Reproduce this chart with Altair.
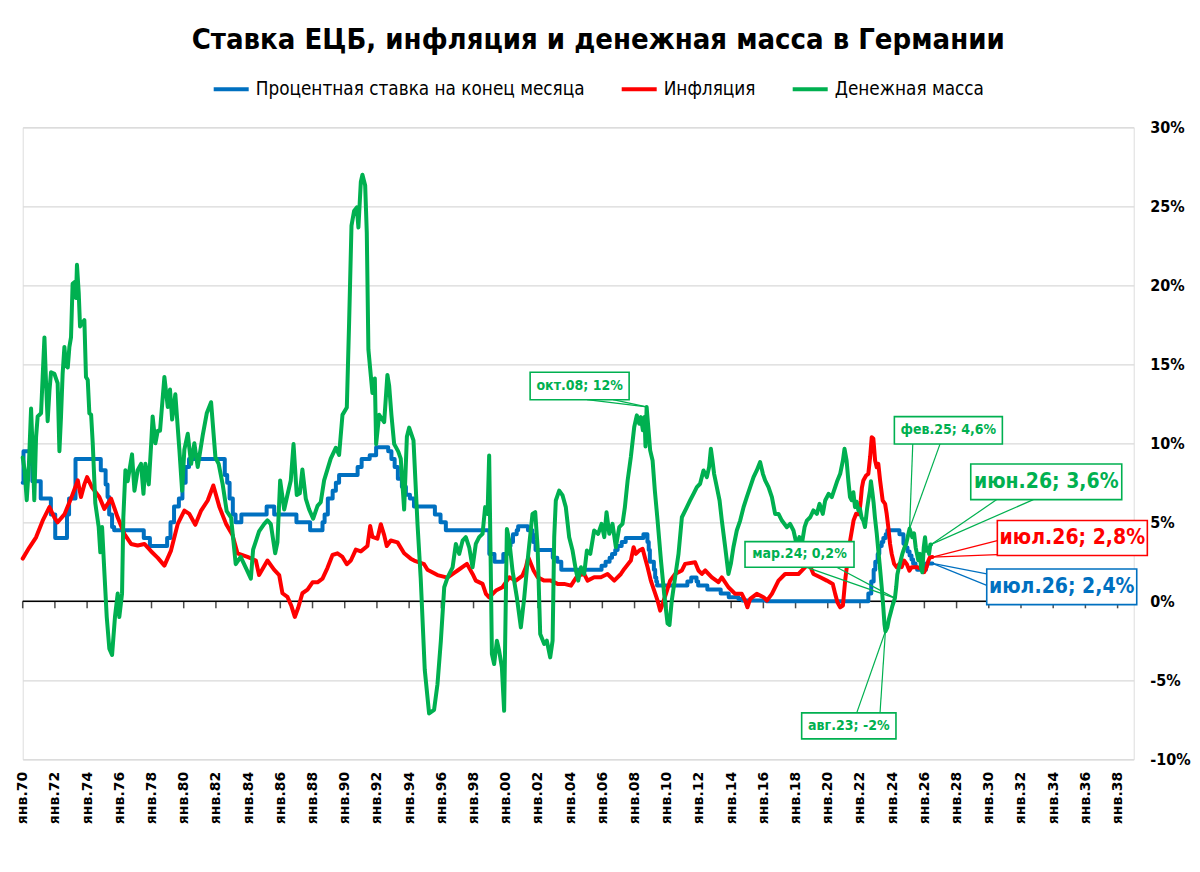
import altair as alt
import pandas as pd

# ---------------- data ----------------
SERIES = ["Процентная ставка на конец месяца", "Инфляция", "Денежная масса"]
COLORS = ["#0070C0", "#FF0000", "#00B050"]

# ECB / Bundesbank rate (change points, step-after)
rate_t = [1970.00, 1970.05, 1970.45, 1970.60, 1971.12, 1971.75, 1972.02, 1972.75, 1972.88, 1973.28,
          1974.85, 1975.15, 1975.27, 1975.37, 1975.55, 1975.68, 1977.52, 1977.90, 1978.97, 1979.18,
          1979.40, 1979.70, 1979.92, 1980.12, 1980.33, 1982.55, 1982.70, 1982.85, 1983.05, 1983.22,
          1983.58, 1985.15, 1985.62, 1987.00, 1987.85, 1988.62, 1988.75, 1988.95, 1989.25, 1989.45,
          1989.65, 1990.80, 1991.05, 1991.55, 1991.95, 1992.70, 1992.90, 1993.10, 1993.30, 1993.55,
          1993.80, 1994.05, 1994.30, 1995.60, 1995.95, 1996.28, 1998.98, 1999.30, 1999.85, 2000.10,
          2000.20, 2000.30, 2000.45, 2000.68, 2000.77, 2001.38, 2001.65, 2001.70, 2001.85, 2002.92,
          2003.20, 2003.45, 2005.95, 2006.20, 2006.45, 2006.60, 2006.80, 2006.95, 2007.20, 2007.45,
          2008.55, 2008.80, 2008.88, 2008.95, 2009.20, 2009.28, 2009.35, 2009.40, 2011.28, 2011.52,
          2011.85, 2011.95, 2012.52, 2013.35, 2013.85, 2014.45, 2014.70, 2016.20, 2022.52, 2022.70,
          2022.85, 2022.95, 2023.10, 2023.20, 2023.35, 2023.45, 2023.60, 2023.70, 2024.45, 2024.70,
          2024.80, 2024.95, 2025.08, 2025.20, 2025.30, 2025.45, 2025.55, 2026.10, 2026.50]
rate_v = [7.5, 9.5, 8.7, 7.6, 6.5, 5.5, 4.0, 5.5, 6.5, 9.0,
          8.3, 7.4, 6.6, 5.5, 4.7, 4.5, 4.0, 3.5, 4.0, 5.0,
          6.0, 6.5, 7.5, 8.5, 9.0, 8.0, 7.5, 6.5, 5.5, 5.0,
          5.5, 6.0, 5.5, 5.0, 4.5, 5.0, 5.5, 6.5, 7.0, 7.5,
          8.0, 8.5, 9.0, 9.25, 9.75, 9.5, 9.0, 8.5, 7.75, 7.25,
          6.75, 6.5, 6.0, 5.5, 5.0, 4.5, 3.0, 2.5, 3.0, 3.25,
          3.5, 3.75, 4.25, 4.5, 4.75, 4.5, 4.25, 3.75, 3.25, 2.75,
          2.5, 2.0, 2.25, 2.5, 2.75, 3.0, 3.25, 3.5, 3.75, 4.0,
          4.25, 3.75, 3.25, 2.5, 2.0, 1.5, 1.25, 1.0, 1.25, 1.5,
          1.25, 1.0, 0.75, 0.5, 0.25, 0.15, 0.05, 0.0, 0.5, 1.25,
          2.0, 2.5, 3.0, 3.5, 3.75, 4.0, 4.25, 4.5, 4.25, 3.65,
          3.4, 3.15, 2.9, 2.65, 2.4, 2.15, 2.0, 2.4, 2.4]

# inflation
infl_t = [1970.00, 1970.41, 1970.83, 1971.24, 1971.66, 1971.97, 1972.17, 1972.59, 1973.00, 1973.42,
          1973.62, 1973.83, 1974.00, 1974.31, 1974.76, 1975.07, 1975.49, 1975.90, 1976.31, 1976.73,
          1977.14, 1977.56, 1977.97, 1978.39, 1978.80, 1979.21, 1979.63, 1980.04, 1980.35, 1980.72,
          1981.08, 1981.49, 1981.84, 1982.22, 1982.63, 1983.03, 1983.34, 1983.96, 1984.48, 1984.68,
          1985.20, 1985.61, 1985.93, 1986.13, 1986.44, 1986.69, 1986.90, 1987.11, 1987.37, 1987.69,
          1988.00, 1988.31, 1988.62, 1988.93, 1989.24, 1989.55, 1989.86, 1990.13, 1990.38, 1990.69,
          1991.00, 1991.41, 1991.58, 1991.72, 1992.03, 1992.24, 1992.45, 1992.61, 1992.86, 1993.28,
          1993.69, 1994.10, 1994.31, 1994.93, 1995.14, 1995.76, 1996.38, 1996.80, 1997.01, 1997.59,
          1997.94, 1998.14, 1998.56, 1998.77, 1998.97, 1999.39, 1999.80, 2000.22, 2000.63, 2001.04,
          2001.25, 2001.40, 2001.73, 2001.98, 2002.39, 2002.80, 2003.22, 2003.63, 2004.05, 2004.25,
          2004.46, 2004.87, 2005.08, 2005.49, 2005.91, 2006.32, 2006.74, 2007.15, 2007.36, 2007.77,
          2007.94, 2008.08, 2008.29, 2008.50, 2008.64, 2008.81, 2009.01, 2009.22, 2009.43, 2009.59,
          2009.74, 2009.95, 2010.21, 2010.52, 2010.94, 2011.14, 2011.76, 2011.97, 2012.18, 2012.39,
          2012.80, 2013.21, 2013.42, 2013.83, 2014.25, 2014.66, 2014.87, 2015.01, 2015.18, 2015.59,
          2016.01, 2016.22, 2016.53, 2016.94, 2017.35, 2017.77, 2018.18, 2018.60, 2018.80, 2019.11,
          2019.53, 2019.94, 2020.31, 2020.46, 2020.60, 2020.77, 2020.94, 2021.08, 2021.23, 2021.39,
          2021.60, 2021.76, 2021.95, 2022.05, 2022.12, 2022.21, 2022.38, 2022.52, 2022.63, 2022.73,
          2022.83, 2022.94, 2023.04, 2023.14, 2023.25, 2023.41, 2023.56, 2023.66, 2023.76, 2023.87,
          2023.97, 2024.12, 2024.28, 2024.45, 2024.59, 2024.74, 2024.90, 2025.07, 2025.21, 2025.52,
          2025.83, 2025.98, 2026.14, 2026.25, 2026.35, 2026.50]
infl_v = [2.7, 3.4, 4.05, 5.1, 5.96, 5.3, 5.0, 5.5, 6.5, 7.65,
          6.6, 7.4, 7.86, 7.2, 6.6, 5.85, 6.5, 5.3, 4.27, 3.63,
          3.53, 3.63, 3.17, 2.75, 2.26, 3.21, 4.9, 5.74, 5.53, 4.84,
          5.74, 6.38, 7.33, 5.96, 4.9, 4.2, 3.04, 2.81, 2.58, 1.66,
          2.58, 2.0, 1.66, 0.51, 0.28, -0.3, -0.99, -0.41, 0.51, 0.74,
          1.2, 1.2, 1.43, 2.12, 2.93, 3.04, 2.81, 2.35, 2.58, 3.27,
          3.16, 3.5, 4.77, 4.08, 3.96, 4.88, 4.19, 3.5, 3.85, 3.73,
          3.04, 2.7, 2.58, 2.35, 2.0, 1.66, 1.5, 1.8, 1.95, 2.37,
          1.73, 1.31, 1.1, 0.47, 0.25, 0.68, 0.89, 1.52, 1.31, 1.63,
          2.16, 2.79, 1.95, 1.52, 1.31, 1.31, 1.1, 1.1, 0.99, 1.31,
          1.63, 1.73, 1.31, 1.52, 1.52, 1.73, 1.31, 1.73, 2.05, 2.58,
          3.42, 3.0, 3.21, 3.32, 2.79, 2.16, 1.31, 0.68, 0.04, -0.59,
          -0.17, 0.47, 1.31, 1.73, 1.95, 2.37, 2.47, 1.95, 1.73, 1.95,
          1.52, 1.21, 1.52, 0.89, 0.47, 0.47, 0.04, -0.38, 0.15, 0.47,
          0.26, 0.04, 0.47, 1.31, 1.73, 1.73, 1.73, 2.16, 2.47, 1.73,
          1.52, 1.31, 1.1, 0.47, -0.06, -0.38, -0.27, 1.31, 2.58, 3.85,
          5.11, 5.54, 5.5, 6.4, 7.2, 7.65, 7.96, 8.07, 9.13, 10.39,
          10.29, 8.91, 8.49, 8.7, 7.65, 6.38, 6.17, 5.53, 4.69, 3.63,
          3.0, 2.37, 2.16, 2.37, 2.16, 2.58, 2.37, 1.94, 2.16, 2.16,
          2.05, 1.84, 2.16, 2.58, 2.79, 2.8]

# money supply
money_t = [1970.00, 1970.12, 1970.25, 1970.38, 1970.52, 1970.62, 1970.72, 1970.83, 1970.93, 1971.14,
           1971.24, 1971.35, 1971.45, 1971.55, 1971.66, 1971.76, 1971.97, 1972.07, 1972.17, 1972.28,
           1972.38, 1972.48, 1972.59, 1972.69, 1972.80, 1972.90, 1973.00, 1973.10, 1973.21, 1973.31,
           1973.37, 1973.48, 1973.56, 1973.69, 1973.83, 1973.93, 1974.04, 1974.14, 1974.25, 1974.35,
           1974.51, 1974.72, 1974.82, 1974.93, 1975.07, 1975.22, 1975.38, 1975.55, 1975.73, 1975.90,
           1976.00, 1976.17, 1976.25, 1976.38, 1976.52, 1976.79, 1976.94, 1977.14, 1977.35, 1977.50,
           1977.62, 1977.83, 1977.97, 1978.07, 1978.24, 1978.39, 1978.53, 1978.80, 1979.01, 1979.15,
           1979.28, 1979.48, 1979.73, 1979.90, 1980.04, 1980.25, 1980.46, 1980.66, 1980.87, 1981.18,
           1981.43, 1981.70, 1981.97, 1982.17, 1982.42, 1982.67, 1982.94, 1983.23, 1983.54, 1983.86,
           1984.17, 1984.31, 1984.68, 1984.99, 1985.20, 1985.41, 1985.68, 1985.82, 1985.99, 1986.24,
           1986.44, 1986.65, 1986.82, 1987.02, 1987.21, 1987.37, 1987.58, 1987.79, 1988.04, 1988.31,
           1988.51, 1988.72, 1989.13, 1989.45, 1989.65, 1989.86, 1990.13, 1990.27, 1990.42, 1990.58,
           1990.75, 1990.85, 1991.00, 1991.10, 1991.27, 1991.37, 1991.47, 1991.72, 1991.87, 1991.95,
           1992.14, 1992.45, 1992.65, 1992.76, 1992.90, 1993.07, 1993.32, 1993.48, 1993.69, 1993.86,
           1994.00, 1994.27, 1994.52, 1994.72, 1994.97, 1995.24, 1995.55, 1995.76, 1995.97, 1996.18,
           1996.39, 1996.70, 1996.90, 1997.11, 1997.32, 1997.52, 1997.73, 1997.94, 1998.14, 1998.35,
           1998.56, 1998.72, 1998.87, 1998.97, 1999.08, 1999.14, 1999.28, 1999.45, 1999.59, 1999.76,
           1999.90, 2000.07, 2000.22, 2000.42, 2000.69, 2000.94, 2001.15, 2001.40, 2001.66, 2001.83,
           2001.98, 2002.14, 2002.39, 2002.55, 2002.76, 2002.91, 2003.01, 2003.11, 2003.32, 2003.53,
           2003.73, 2003.94, 2004.15, 2004.36, 2004.50, 2004.67, 2004.87, 2005.04, 2005.25, 2005.49,
           2005.74, 2005.95, 2006.12, 2006.26, 2006.43, 2006.63, 2006.84, 2007.05, 2007.25, 2007.40,
           2007.57, 2007.77, 2007.98, 2008.14, 2008.29, 2008.39, 2008.52, 2008.62, 2008.68, 2008.75,
           2008.97, 2009.12, 2009.26, 2009.43, 2009.64, 2009.84, 2010.05, 2010.17, 2010.31, 2010.52,
           2010.73, 2010.94, 2011.25, 2011.45, 2011.66, 2011.87, 2012.07, 2012.28, 2012.49, 2012.63,
           2012.74, 2012.84, 2012.94, 2013.11, 2013.28, 2013.42, 2013.63, 2013.83, 2013.98, 2014.14,
           2014.35, 2014.56, 2014.77, 2014.97, 2015.18, 2015.39, 2015.59, 2015.80, 2015.97, 2016.11,
           2016.32, 2016.53, 2016.73, 2016.94, 2017.15, 2017.46, 2017.66, 2017.87, 2018.08, 2018.24,
           2018.39, 2018.56, 2018.70, 2018.91, 2019.11, 2019.32, 2019.49, 2019.69, 2019.84, 2020.05,
           2020.25, 2020.46, 2020.60, 2020.77, 2020.94, 2021.04, 2021.17, 2021.28, 2021.38, 2021.48,
           2021.59, 2021.69, 2021.79, 2021.90, 2022.00, 2022.10, 2022.21, 2022.31, 2022.38, 2022.44,
           2022.52, 2022.62, 2022.68, 2022.77, 2022.85, 2022.93, 2023.04, 2023.14, 2023.24, 2023.35,
           2023.45, 2023.52, 2023.58, 2023.70, 2023.80, 2023.91, 2024.01, 2024.17, 2024.25, 2024.32,
           2024.42, 2024.53, 2024.63, 2024.76, 2024.86, 2024.96, 2025.08, 2025.25, 2025.36, 2025.46,
           2025.54, 2025.62, 2025.73, 2025.79, 2025.87, 2025.96, 2026.04, 2026.12, 2026.20, 2026.29,
           2026.37, 2026.42]
money_v = [9.1, 8.3, 6.4, 8.5, 12.2, 9.5, 6.4, 10.4, 11.7, 11.9,
           14.2, 16.7, 13.8, 11.4, 13.3, 14.5, 14.4, 14.1, 13.8, 9.5,
           11.7, 14.4, 16.1, 14.9, 14.8, 16.1, 16.7, 20.1, 20.2, 19.2,
           21.3, 19.5, 17.4, 17.6, 17.8, 14.2, 14.0, 11.9, 11.8, 10.0,
           6.2, 4.7, 3.1, 4.7, 1.9, -1.0, -3.0, -3.4, -1.0, 0.5,
           -1.0, 0.5, 5.3, 8.3, 7.6, 9.3, 7.0, 8.3, 8.7, 6.8,
           8.7, 7.4, 9.8, 11.7, 10.0, 10.8, 10.8, 14.2, 12.3, 13.4,
           11.5, 13.1, 9.6, 7.0, 9.6, 10.6, 8.7, 10.0, 8.5, 10.5,
           11.9, 12.6, 9.1, 8.7, 7.4, 5.7, 5.3, 2.35, 2.81, 2.12,
           1.43, 3.27, 4.42, 4.88, 5.12, 4.88, 3.04, 3.73, 7.65, 5.81,
           6.73, 7.65, 9.95, 6.73, 6.84, 8.34, 6.5, 5.81, 5.23, 6.04,
           6.27, 7.65, 9.03, 9.72, 9.26, 11.8, 12.26, 17.56, 23.78, 24.7,
           24.93, 23.66, 26.54, 27.0, 26.31, 23.32, 15.94, 13.18, 14.1, 9.95,
           11.8, 11.34, 14.33, 13.64, 11.8, 9.95, 9.49, 9.03, 5.81, 10.41,
           10.99, 10.18, 4.88, 1.43, -4.33, -7.1, -6.87, -5.25, -2.5, 0.89,
           1.52, 2.15, 3.63, 3.0, 3.84, 4.06, 3.42, 2.15, 3.63, 4.06,
           4.27, 5.96, 5.53, 9.23, 1.31, -3.34, -3.97, -2.49, -3.13, -4.18,
           -6.93, 4.58, 3.84, 1.94, 0.25, -1.65, 0.25, 3.0, 5.53, 5.64,
           3.42, -2.07, -2.7, -2.49, -3.55, -2.49, 4.06, 6.38, 7.01, 6.7,
           5.96, 4.06, 3.21, 1.94, 1.31, 2.15, 1.73, 3.21, 3.0, 4.48,
           4.27, 4.9, 4.06, 5.64, 4.27, 4.9, 3.42, 4.69, 4.9, 5.96,
           7.65, 9.13, 11.03, 11.77, 11.24, 11.66, 10.82, 11.66, 9.8, 12.3,
           9.55, 8.91, 7.01, 5.11, 2.58, 0.46, -1.4, -1.5, 0.04, 1.52,
           3.0, 5.32, 5.96, 6.38, 6.8, 7.23, 7.44, 8.28, 7.86, 8.49,
           9.65, 8.91, 8.07, 7.23, 6.38, 5.11, 3.42, 1.73, 2.37, 3.42,
           4.48, 5.11, 5.96, 6.59, 7.23, 7.86, 8.28, 8.81, 8.07, 7.65,
           7.23, 6.59, 5.53, 5.53, 5.11, 4.69, 4.9, 4.48, 3.53, 4.06,
           3.63, 4.69, 5.11, 5.32, 5.75, 5.53, 6.17, 5.53, 6.38, 6.8,
           6.59, 7.23, 7.65, 8.07, 8.91, 9.65, 8.9, 7.6, 6.6, 6.4,
           6.9, 5.96, 6.3, 5.75, 5.85, 5.3, 5.1, 4.7, 5.3, 5.85,
           6.4, 7.0, 7.6, 6.9, 6.2, 5.3, 4.3, 3.2, 2.15, 0.9,
           -0.4, -1.45, -1.9, -1.65, -1.12, -0.7, -0.3, 0.2, 0.9, 1.7,
           2.15, 2.6, 3.0, 3.4, 3.6, 4.05, 4.6, 4.05, 4.3, 3.4,
           3.0, 2.6, 3.0, 2.15, 1.84, 3.4, 4.05, 3.2, 3.4, 3.0,
           3.6, 3.6]

tick_years = list(range(1970, 2039, 2))
y_ticks = [-10, -5, 0, 5, 10, 15, 20, 25, 30]

# callouts: labelled points
ann_label = ["окт.08; 12%", "мар.24; 0,2%", "авг.23; -2%", "фев.25; 4,6%",
             "июн.26; 3,6%", "июл.26; 2,8%", "июл.26; 2,4%"]
ann_t = [2008.75, 2024.17, 2023.58, 2025.08, 2026.42, 2026.50, 2026.50]
ann_v = [12.3, 0.2, -1.9, 4.6, 3.6, 2.8, 2.4]
ann_series = [2, 2, 2, 2, 2, 1, 0]

# ---------------- styles (pixel offsets of the callout boxes) ----------------
ann_box = [(-67, -21, 99, 27.5), (-95.4, -43.7, 109, 25.7), (-36.6, 94.6, 94.3, 26),
           (38.8, -98.3, 108, 27.3), (115.1, -62.6, 151, 35.7), (139.9, -19, 150, 35),
           (129.3, 23.4, 150, 35.7)]
ann_font = [14, 14, 14, 14, 21, 21, 21]
ann_leads = [((-59.6, -7.4), (-33.6, -7.4)), ((-88.2, -30.8), (-58.2, -30.8)),
             ((-28.7, 81.6), (-5.4, 81.6)), ((3.2, -84.7), (30.5, -84.7)),
             ((65.6, -44.8), (102.2, -44.8)), ((64.9, -16.5), (64.9, -2.5)),
             ((54.3, 10.5), (54.3, 22))]

W, H = 1111, 632
X0, X1 = 1970, 2039
Y0, Y1 = -10, 30
PX_T = W / (X1 - X0)
PX_V = H / (Y1 - Y0)

FONT_C = "DejaVu Sans Condensed, Liberation Sans Narrow, Roboto, sans-serif"
FONT_V = "DejaVu Sans, Verdana, sans-serif"

rate_df = pd.DataFrame({"t": rate_t, "v": rate_v, "series": SERIES[0]})
infl_df = pd.DataFrame({"t": infl_t, "v": infl_v, "series": SERIES[1]})
money_df = pd.DataFrame({"t": money_t, "v": money_v, "series": SERIES[2]})
ticks_df = pd.DataFrame({"t": tick_years, "v": 0})
zero_df = pd.DataFrame({"v": [0]})

box_rows, text_rows, lead_rows = [], [], []
for i, lab in enumerate(ann_label):
    t, v = ann_t[i], ann_v[i]
    col = COLORS[ann_series[i]]
    dx, dy, w, h = ann_box[i]
    box_rows.append(dict(x=t + (dx - w / 2) / PX_T, x2=t + (dx + w / 2) / PX_T,
                         y=v - (dy - h / 2) / PX_V, y2=v - (dy + h / 2) / PX_V, col=col))
    text_rows.append(dict(x=t + dx / PX_T, y=v - dy / PX_V, label=lab, col=col, size=ann_font[i]))
    for lx, ly in ann_leads[i]:
        lead_rows.append(dict(x=t, y=v, x2=t + lx / PX_T, y2=v - ly / PX_V, col=col))
box_df = pd.DataFrame(box_rows)
text_df = pd.DataFrame(text_rows)
lead_df = pd.DataFrame(lead_rows)

xscale = alt.Scale(domain=[X0, X1], nice=False, zero=False)
yscale = alt.Scale(domain=[Y0, Y1], nice=False, zero=False)
xaxis = alt.Axis(values=tick_years, labelExpr="'янв.' + slice(toString(datum.value), 2)",
                 labelAngle=270, labelAlign="right", labelBaseline="middle",
                 labelFont=FONT_V, labelFontSize=14, labelFontWeight="bold", labelColor="black",
                 labelPadding=12, ticks=False, domain=False, grid=False, title=None,
                 labelOverlap=False, labelFlush=False)
yaxis = alt.Axis(orient="right", values=y_ticks, labelExpr="datum.value + '%'",
                 labelFont=FONT_C, labelFontSize=16, labelFontWeight="bold", labelColor="black",
                 labelPadding=16, ticks=False, domain=False, grid=True, gridColor="#D9D9D9",
                 gridWidth=1.3, title=None)


def X(f="t"):
    return alt.X(f"{f}:Q", scale=xscale, axis=xaxis)


def Y(f="v"):
    return alt.Y(f"{f}:Q", scale=yscale, axis=yaxis)


color = alt.Color("series:N", scale=alt.Scale(domain=SERIES, range=COLORS),
                  legend=alt.Legend(orient="none", legendX=189, legendY=-58, direction="horizontal",
                                    title=None, symbolType="stroke", symbolSize=1225,
                                    symbolStrokeWidth=4, labelFont=FONT_C, labelFontSize=18.8,
                                    labelColor="black", labelOffset=5, columnPadding=29,
                                    padding=0, labelLimit=500))

zero = alt.Chart(zero_df).mark_rule(color="black", strokeWidth=1.5).encode(y=Y())
ticks = alt.Chart(ticks_df).mark_tick(orient="vertical", size=7, thickness=1.5, color="black",
                                      yOffset=3.5).encode(x=X(), y=Y())
line_kw = dict(strokeWidth=4, strokeJoin="round", strokeCap="round")
blue = alt.Chart(rate_df).mark_line(interpolate="step-after", **line_kw).encode(x=X(), y=Y(), color=color)
red = alt.Chart(infl_df).mark_line(**line_kw).encode(x=X(), y=Y(), color=color)
green = alt.Chart(money_df).mark_line(**line_kw).encode(x=X(), y=Y(), color=color)

leads = alt.Chart(lead_df).mark_rule(strokeWidth=1.2).encode(
    x=X("x"), y=Y("y"), x2="x2:Q", y2="y2:Q", stroke=alt.Stroke("col:N", scale=None))
boxes = alt.Chart(box_df).mark_rect(fill="white", strokeWidth=1.6).encode(
    x=X("x"), x2="x2:Q", y=Y("y"), y2="y2:Q", stroke=alt.Stroke("col:N", scale=None))
texts = alt.Chart(text_df).mark_text(font=FONT_C, fontWeight="bold", align="center",
                                     baseline="middle").encode(
    x=X("x"), y=Y("y"), text="label:N", fill=alt.Fill("col:N", scale=None),
    size=alt.Size("size:Q", scale=None))

chart = alt.layer(zero, ticks, blue, red, green, leads, boxes, texts).properties(
    width=W, height=H,
    title=alt.TitleParams("Ставка ЕЦБ, инфляция и денежная масса в Германии", font=FONT_C,
                          fontSize=29, fontWeight="bold", color="black", anchor="middle",
                          frame="group", dx=20, dy=34, offset=25, baseline="alphabetic"),
    autosize=alt.AutoSizeParams(type="none"),
    padding={"left": 14.7, "top": 119.3, "right": 58.3, "bottom": 104.7},
).configure_view(stroke=None).configure(background="white")

chart.save("out.html", embed_options={"renderer": "svg", "actions": False})
